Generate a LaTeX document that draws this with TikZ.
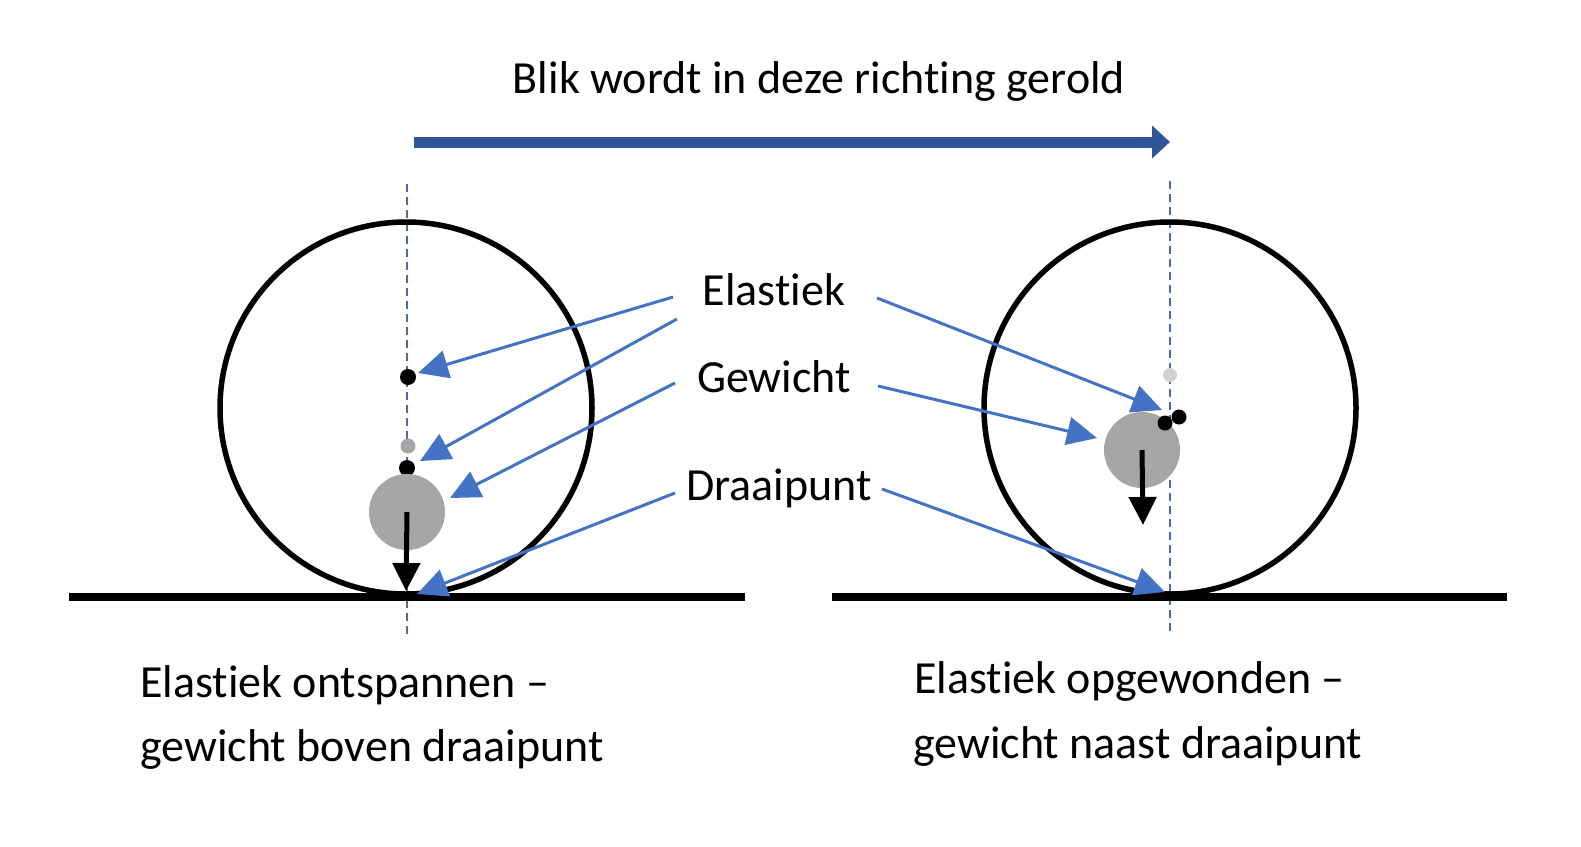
\documentclass[tikz,border=0pt]{standalone}
\usepackage{fontspec}
\setmainfont{Carlito}[Ligatures=NoCommon]
\usetikzlibrary{arrows.meta}
\definecolor{pijlblauw}{HTML}{4472C4}
\definecolor{donkerblauw}{HTML}{2F5597}
\definecolor{lijnblauw}{HTML}{4A69A8}
\definecolor{gewichtgrijs}{HTML}{A6A6A6}
\definecolor{lichtgrijs}{HTML}{D0D0D0}
\newcommand{\Punt}[4][black]{\node[circle, fill=#1, inner sep=0pt, minimum size=#2] (#3) at #4 {};}

\begin{document}
\begin{tikzpicture}[x=1pt, y=-1pt,
  tekst/.style={font=\fontsize{46}{57}\selectfont, inner sep=0pt, anchor=base},
  wijzer/.style={pijlblauw, line width=3pt, -{Triangle[length=30pt, width=28pt]}},
  kracht/.style={black, line width=5pt, -{Triangle[length=28pt, width=27pt]}},
  as/.style={lijnblauw, line width=1.3pt, dash pattern=on 8pt off 5pt},
  wiel/.style={draw, line width=5.5pt, circle, minimum size=372pt, inner sep=0pt},
  grond/.style={line width=8pt}]
\useasboundingbox (0,0) rectangle (1581,846);

	% richting
	\node[tekst] (titel) at (819,93) {Blik wordt in deze richting gerold};
	\coordinate (rolA) at (414,142);
	\coordinate (rolB) at (1170,142);
	\draw[donkerblauw, line width=11pt, -{Triangle[length=18pt, width=32pt]}] (rolA) -- (rolB);
	
	% assen
	\coordinate (asL1) at (407,184);
	\coordinate (asL2) at (407,637);
	\coordinate (asR1) at (1170,181);
	\coordinate (asR2) at (1170,633);
	\draw[as] (asL1) -- (asL2);
	\draw[as] (asR1) -- (asR2);
	
	% wielen en grond
	\node[wiel] (wielL) at (406,408) {};
	\node[wiel] (wielR) at (1170,408) {};
	\coordinate (gL1) at (69,597);
	\coordinate (gL2) at (745,597);
	\coordinate (gR1) at (832,597);
	\coordinate (gR2) at (1507,597);
	\draw[grond] (gL1) -- (gL2);
	\draw[grond] (gR1) -- (gR2);
	
	% links
	\Punt{16pt}{elL1}{(408,377)}
	\Punt[gewichtgrijs]{15pt}{oudL}{(408,446)}
	\Punt{16pt}{elL2}{(407,468)}
	\Punt[gewichtgrijs]{76pt}{gewL}{(407,512)}
	\coordinate (valL) at (406,591);
	\draw[kracht] (gewL.center) -- (valL);
	
	% rechts
	\Punt[lichtgrijs]{14pt}{oudR}{(1170,375)}
	\Punt[gewichtgrijs]{76pt}{gewR}{(1142,450)}
	\Punt{15pt}{elR1}{(1165,423)}
	\Punt{15pt}{elR2}{(1179,417)}
	\coordinate (valR) at (1143,525);
	\draw[kracht] (gewR.center) -- (valR);
	
	% labels
	\node[tekst] (lElastiek) at (774,305) {Elastiek};
	\node[tekst] (lGewicht) at (774,392) {Gewicht};
	\node[tekst] (lDraaipunt) at (779,500) {Draaipunt};
	
	\coordinate (bL1) at (673,297);
	\coordinate (bL2) at (677,319);
	\coordinate (bL3) at (675,383);
	\coordinate (bL4) at (675,493);
	\coordinate (bR1) at (877,298);
	\coordinate (bR2) at (878,386);
	\coordinate (bR3) at (882,489);
	
	\coordinate (tL1) at (418,373);
	\coordinate (tL2) at (420,461);
	\coordinate (tL3) at (450,498);
	\coordinate (tL4) at (417,594);
	\coordinate (tR1) at (1162,410);
	\coordinate (tR2) at (1097,438);
	\coordinate (tR3) at (1165,592);
	
	\draw[wijzer] (bL1) -- (tL1);
	\draw[wijzer] (bL2) -- (tL2);
	\draw[wijzer] (bL3) -- (tL3);
	\draw[wijzer] (bL4) -- (tL4);
	\draw[wijzer] (bR1) -- (tR1);
	\draw[wijzer] (bR2) -- (tR2);
	\draw[wijzer] (bR3) -- (tR3);
	
	% onderschriften
	\node[tekst, anchor=base west] (ondL1) at (140,697) {Elastiek ontspannen --};
	\node[tekst, anchor=base west] (ondL2) at (140,761) {gewicht boven draaipunt};
	\node[tekst, anchor=base west] (ondR1) at (914,693) {Elastiek opgewonden --};
	\node[tekst, anchor=base west] (ondR2) at (913,758) {gewicht naast draaipunt};

\end{tikzpicture}
\end{document}
